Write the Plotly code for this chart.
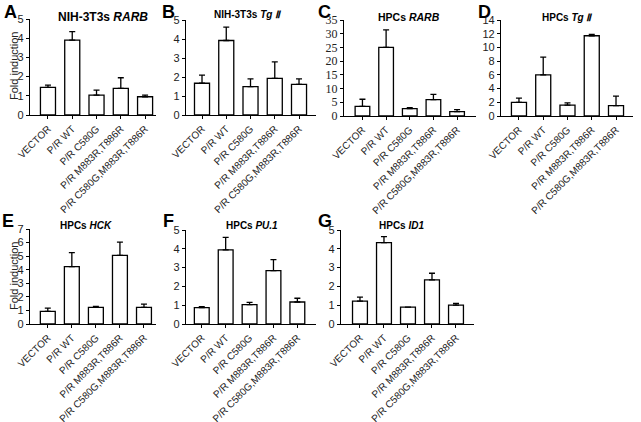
import plotly.graph_objects as go

W, H = 641, 422

categories = ["VECTOR", "P/R WT", "P/R C580G", "P/R M883R,T886R", "P/R C580G,M883R,T886R"]

A_vals = [1.44, 3.90, 1.04, 1.39, 0.95]
A_err = [0.12, 0.44, 0.26, 0.55, 0.09]
B_vals = [1.67, 3.92, 1.49, 1.93, 1.61]
B_err = [0.43, 0.70, 0.41, 0.87, 0.29]
C_vals = [3.5, 25.0, 2.7, 6.0, 1.6]
C_err = [2.6, 6.4, 0.35, 1.9, 0.7]
D_vals = [2.0, 6.0, 1.6, 11.7, 1.5]
D_err = [0.6, 2.6, 0.3, 0.2, 1.4]
E_vals = [0.93, 4.23, 1.22, 5.06, 1.22]
E_err = [0.24, 1.03, 0.08, 0.98, 0.25]
F_vals = [0.87, 3.94, 1.03, 2.84, 1.17]
F_err = [0.05, 0.67, 0.12, 0.58, 0.20]
G_vals = [1.22, 4.33, 0.90, 2.35, 1.00]
G_err = [0.21, 0.32, 0.0, 0.35, 0.10]

titles = [
    ("NIH-3T3s <i>RARB</i>", 12),
    ("NIH-3T3s <i>Tg Ⅱ</i>", 10),
    ("HPCs <i>RARB</i>", 10.5),
    ("HPCs <i>Tg Ⅱ</i>", 10),
    ("HPCs <i>HCK</i>", 10),
    ("HPCs <i>PU.1</i>", 10),
    ("HPCs <i>ID1</i>", 10),
]
letters = ["A", "B", "C", "D", "E", "F", "G"]

# layout geometry in pixels: (x0, x1, ytop, ybottom), y max, dtick, x range, title centre, letter pos
panels = [
    dict(v=A_vals, e=A_err, px=(30, 156, 19, 115), ymax=5, dt=1, xr=[-0.74, 4.45], tc=(103, 17), lp=(10, 12)),
    dict(v=B_vals, e=B_err, px=(186, 316, 20, 115), ymax=5, dt=1, xr=[-0.66, 4.7], tc=(248, 15), lp=(169, 12)),
    dict(v=C_vals, e=C_err, px=(344, 476, 20, 116), ymax=35, dt=5, xr=[-0.78, 4.8], tc=(409, 17), lp=(325, 12)),
    dict(v=D_vals, e=D_err, px=(501, 633, 20, 116), ymax=14, dt=2, xr=[-0.74, 4.7], tc=(567, 17), lp=(484, 12)),
    dict(v=E_vals, e=E_err, px=(30, 156, 229, 324), ymax=7, dt=1, xr=[-0.74, 4.5], tc=(86, 225), lp=(8, 221)),
    dict(v=F_vals, e=F_err, px=(186, 316, 230, 324), ymax=5, dt=1, xr=[-0.66, 4.78], tc=(252, 225), lp=(168, 221)),
    dict(v=G_vals, e=G_err, px=(341, 474, 230, 324), ymax=5, dt=1, xr=[-0.79, 4.75], tc=(402, 225), lp=(325, 221)),
]

fig = go.Figure()
annotations = []
layout = {}
for i, p in enumerate(panels):
    n = "" if i == 0 else str(i + 1)
    fig.add_trace(go.Bar(
        x=categories, y=p["v"], width=0.62,
        marker=dict(color="white", line=dict(color="black", width=1.3)),
        error_y=dict(type="data", symmetric=False, array=p["e"], arrayminus=[0] * 5,
                     color="black", thickness=1.3, width=3),
        xaxis="x" + n, yaxis="y" + n, showlegend=False, hoverinfo="skip",
    ))
    x0, x1, yt, yb = p["px"]
    tickfont = dict(family="Liberation Serif", size=12, color="#222") if i == 2 else dict(family="Arial", size=11, color="#222")
    layout["xaxis" + n] = dict(
        domain=[x0 / W, x1 / W], anchor="y" + n, type="category", range=p["xr"],
        showline=True, linecolor="black", linewidth=1.3, ticks="outside", ticklen=3,
        tickcolor="black", tickangle=-45, tickfont=dict(family="Arial", size=10, color="#222"),
        showgrid=False, zeroline=False, fixedrange=True, automargin=False,
    )
    layout["yaxis" + n] = dict(
        domain=[1 - yb / H, 1 - yt / H], anchor="x" + n, range=[0, p["ymax"]], dtick=p["dt"],
        showline=True, linecolor="black", linewidth=1.3, ticks="outside", ticklen=3,
        tickcolor="black", tickfont=tickfont, showgrid=False, zeroline=False, automargin=False,
        fixedrange=True,
    )
    t, fs = titles[i]
    annotations.append(dict(text="<b>" + t + "</b>", x=p["tc"][0] / W, y=1 - p["tc"][1] / H,
                            xref="paper", yref="paper", showarrow=False,
                            xanchor="center", yanchor="middle",
                            font=dict(family="Arial", size=fs, color="black")))
    annotations.append(dict(text="<b>" + letters[i] + "</b>", x=p["lp"][0] / W, y=1 - p["lp"][1] / H,
                            xref="paper", yref="paper", showarrow=False,
                            xanchor="center", yanchor="middle",
                            font=dict(family="Arial", size=18, color="black")))

for yc in (66, 276):
    annotations.append(dict(text="Fold induction", x=14 / W, y=1 - yc / H, xref="paper", yref="paper",
                            showarrow=False, textangle=-90, xanchor="center", yanchor="middle",
                            font=dict(family="Arial", size=11, color="#222")))

fig.update_layout(
    width=W, height=H, margin=dict(l=0, r=0, t=0, b=0),
    plot_bgcolor="white", paper_bgcolor="white",
    annotations=annotations, bargap=0.3, **layout,
)
fig.write_html("out.html", config={"displayModeBar": False},
               post_script="document.body.style.margin='0';document.body.style.overflow='hidden';")
